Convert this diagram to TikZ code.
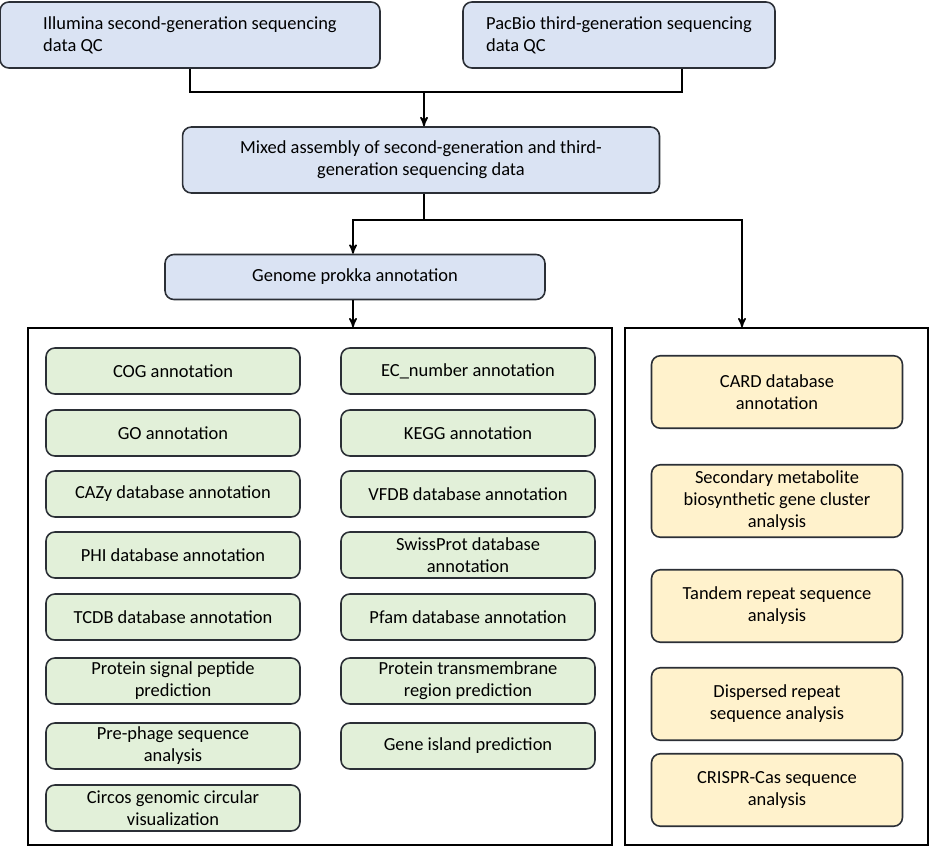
\documentclass[tikz,border=0pt]{standalone}
\usepackage{fontspec}
\setmainfont{Carlito}
\usetikzlibrary{arrows,positioning}
\definecolor{boxblue}{HTML}{DAE3F3}
\definecolor{boxgreen}{HTML}{E2F0D9}
\definecolor{boxyellow}{HTML}{FFF2CC}
\definecolor{edgegray}{HTML}{2B2F36}
\tikzset{>=stealth',
         box/.style={draw=edgegray, line width=0.9pt, rounded corners=5pt, align=center,
                     inner sep=2pt, font=\fontsize{10.5}{12.5}\selectfont},
         stage/.style={box, fill=boxblue, minimum height=1.32cm},
         func/.style={box, fill=boxgreen, minimum width=5.08cm, minimum height=0.92cm},
         extra/.style={box, fill=boxyellow, minimum width=5.02cm, minimum height=1.45cm},
         panel/.style={draw=black, line width=0.9pt}}

\begin{document}
\begin{tikzpicture}[x=0.02cm, y=-0.02cm]
	\useasboundingbox (0,0) rectangle (930,848);

	% top row
	\node[stage, minimum width=7.6cm, align=left] (illumina) at (190,35)
	  {Illumina second-generation sequencing\\data QC};
	\node[stage, minimum width=6.24cm, align=left] (pacbio) at (619,35)
	  {PacBio third-generation sequencing\\data QC};
	\node[stage, minimum width=9.54cm] (mixed) at (421,160)
	  {Mixed assembly of second-generation and third-\\generation sequencing data};
	\node[stage, minimum width=7.6cm, minimum height=0.9cm] (prokka) at (355,277)
	  {Genome prokka annotation};

	% panels
	\node[panel, minimum width=11.68cm, minimum height=10.34cm, inner sep=0pt] (left) at (320,586.5) {};
	\node[panel, minimum width=6.06cm, minimum height=10.34cm, inner sep=0pt] (right) at (776.5,586.5) {};

	% connectors
	\coordinate (join) at (424,92);
	\draw[line width=0.9pt] (illumina.south) |- (join) -| ([xshift=36pt]pacbio.south);
	\draw[->, line width=0.9pt] (join) -- (mixed.north -| join);
	\coordinate (split) at (424,220);
	\draw[line width=0.9pt] (mixed.south -| split) -- (split);
	\draw[->, line width=0.9pt] (split) -| (prokka.north -| 353,0);
	\draw[->, line width=0.9pt] (split) -| (right.north -| 742,0);
	\draw[->, line width=0.9pt] (prokka.south -| 353,0) -- (left.north -| 353,0);

	% green boxes, first column
	\foreach \name/\y/\txt in {cog/371/COG annotation, go/433/GO annotation,
	    cazy/494/CAZy database annotation, phi/555/PHI database annotation,
	    tcdb/617/TCDB database annotation, signal/681/Protein signal peptide\\prediction,
	    phage/746/Pre-phage sequence\\analysis, circos/808/Circos genomic circular\\visualization}
	  \node[func] (\name) at (173,\y) {\txt};
	% green boxes, second column
	\foreach \name/\y/\txt in {ec/371/EC\_number annotation, kegg/433/KEGG annotation,
	    vfdb/494/VFDB database annotation, swiss/555/SwissProt database\\annotation,
	    pfam/617/Pfam database annotation, tm/681/Protein transmembrane\\region prediction,
	    island/746/Gene island prediction}
	  \node[func] (\name) at (468,\y) {\txt};

	% yellow boxes
	\foreach \name/\y/\txt in {card/392/CARD database\\annotation,
	    smbgc/501/Secondary metabolite\\biosynthetic gene cluster\\analysis,
	    tandem/606/Tandem repeat sequence\\analysis,
	    dispersed/704/Dispersed repeat\\sequence analysis,
	    crispr/790/CRISPR-Cas sequence\\analysis}
	  \node[extra] (\name) at (777,\y) {\txt};
\end{tikzpicture}
\end{document}
